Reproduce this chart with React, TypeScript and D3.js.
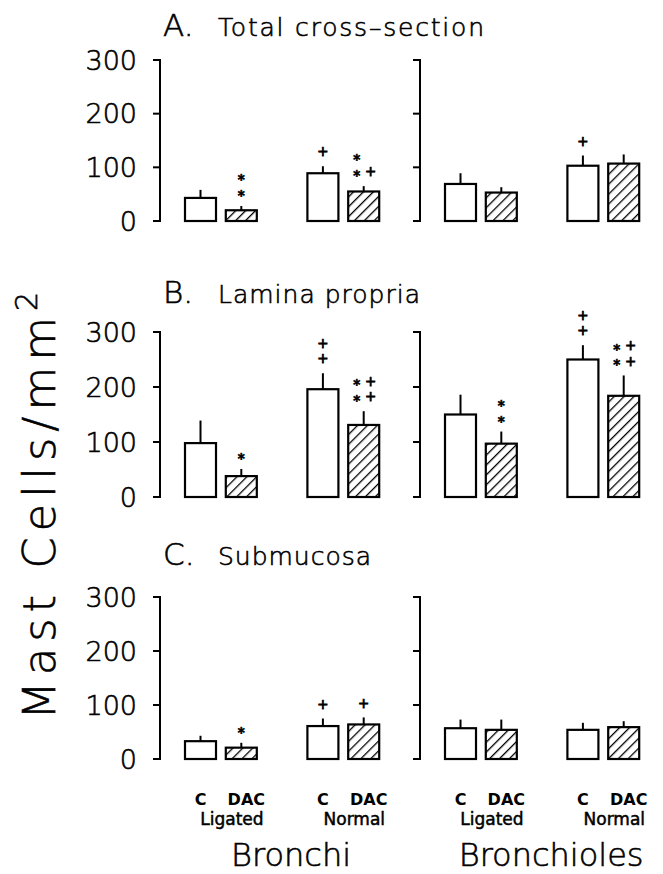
import React from "react";
import * as d3 from "d3";

const regions = ["Bronchi", "Bronchioles"];
const groups = ["Ligated", "Normal"];
const treatments = ["C", "DAC"];
const panelLetters = ["A.", "B.", "C."];
const panelNames = ["Total cross–section", "Lamina propria", "Submucosa"];
const yTicks = [0, 100, 200, 300];

// bar order: Bronchi (Ligated C, Ligated DAC, Normal C, Normal DAC), Bronchioles (same)
const totalMeans = [43, 20, 89, 55, 69, 53, 103, 107];
const totalSem = [15, 8, 13, 10, 20, 10, 19, 17];
const laminaMeans = [98, 38, 196, 131, 150, 97, 250, 184];
const laminaSem = [41, 13, 29, 25, 36, 22, 26, 37];
const submucosaMeans = [33, 21, 61, 64, 57, 54, 54, 59];
const submucosaSem = [10, 9, 14, 13, 16, 19, 13, 11];

// significance marks, rows from top to bottom
const totalMarks = [[], ["*", "*"], ["+"], ["* ", "*+"], [], [], ["+"], []];
const laminaMarks = [[], ["*"], ["+", "+"], ["*+", "*+"], [], ["*", "*"], ["+", "+"], ["*+", "*+"]];
const submucosaMarks = [[], ["*"], ["+"], ["+"], [], [], [], []];

const panelMeans = [totalMeans, laminaMeans, submucosaMeans];
const panelSem = [totalSem, laminaSem, submucosaSem];
const panelMarks = [totalMarks, laminaMarks, submucosaMarks];

const W = 663;
const H = 874;
const axisXs = [160, 420];
const panelRanges: [number, number][] = [
  [221, 60],
  [497, 332],
  [759, 597],
];
const titleBaselines = [36, 303, 565];
const nameLengths = [266, 202, 153];
const FONT = "'DejaVu Sans', sans-serif";
const MARK_FS = 13.4;
const ROW_GAP = 15.8;
const COL_GAP = 14;
const thin = { fontWeight: 300, stroke: "#000", strokeWidth: 0.6 };

export default function App() {
  const slots = ["Ligated-C", "Ligated-DAC", "gap", "Normal-C", "Normal-DAC"];
  const step = 40.8;
  const inner = 0.24;

  return (
    <svg
      width={W}
      height={H}
      viewBox={`0 0 ${W} ${H}`}
      style={{ position: "absolute", left: 0, top: 0, background: "#fff" }}
      fontFamily={FONT}
    >
      <defs>
        <pattern
          id="hatch"
          patternUnits="userSpaceOnUse"
          width={7}
          height={7}
          patternTransform="rotate(45)"
        >
          <line x1={0} y1={-1} x2={0} y2={8} stroke="#000" strokeWidth={2.6} />
        </pattern>
      </defs>
      <rect x={0} y={0} width={W} height={H} fill="#fff" />

      {/* y-axis label */}
      <text
        transform={`translate(55, 506) rotate(-90)`}
        textAnchor="middle"
        fontSize={45}
        fill="#000"
        textLength={428}
        lengthAdjust="spacing"
        {...thin}
      >
        Mast Cells/mm
        <tspan fontSize={30} dy={-18}>
          2
        </tspan>
      </text>

      {panelRanges.map((range, p) => {
        const y = d3.scaleLinear().domain([0, 300]).range(range);
        const means = panelMeans[p];
        const sems = panelSem[p];
        const marks = panelMarks[p];
        return (
          <g key={p}>
            <text x={163} y={titleBaselines[p]} fontSize={31} fill="#000" {...thin}>
              {panelLetters[p]}
            </text>
            <text
              x={218}
              y={titleBaselines[p]}
              fontSize={25}
              fill="#000"
              textLength={nameLengths[p]}
              lengthAdjust="spacing"
              {...thin}
            >
              {panelNames[p]}
            </text>
            {yTicks.map((t) => (
              <text
                key={t}
                x={137}
                y={y(t)}
                dy="0.36em"
                textAnchor="end"
                fontSize={27}
                fill="#000"
                {...thin}
              >
                {t}
              </text>
            ))}
            {regions.map((reg, r) => {
              const ax = axisXs[r];
              const band = d3
                .scaleBand()
                .domain(slots)
                .range([ax + 25, ax + 25 + step * (slots.length - inner)])
                .paddingInner(inner)
                .paddingOuter(0);
              return (
                <g key={reg}>
                  <line x1={ax} x2={ax} y1={y(300)} y2={y(0)} stroke="#000" strokeWidth={2} />
                  {yTicks.map((t) => (
                    <line
                      key={t}
                      x1={ax - 7}
                      x2={ax + 1}
                      y1={y(t)}
                      y2={y(t)}
                      stroke="#000"
                      strokeWidth={2}
                    />
                  ))}
                  {groups.map((g, gi) =>
                    treatments.map((tr, ti) => {
                      const idx = r * 4 + gi * 2 + ti;
                      const bx = band(`${g}-${tr}`)!;
                      const bw = band.bandwidth();
                      const cx = bx + bw / 2;
                      const m = means[idx];
                      const top = m + sems[idx];
                      const rows = marks[idx];
                      const baseY = y(top) - 14;
                      return (
                        <g key={`${g}-${tr}`}>
                          <line
                            x1={cx}
                            x2={cx}
                            y1={y(m)}
                            y2={y(top)}
                            stroke="#000"
                            strokeWidth={2}
                          />
                          <rect
                            x={bx}
                            y={y(m)}
                            width={bw}
                            height={y(0) - y(m)}
                            fill={tr === "DAC" ? "url(#hatch)" : "#fff"}
                            stroke="#000"
                            strokeWidth={2.2}
                          />
                          {rows.map((row, ri) => {
                            const rowY = baseY - (rows.length - 1 - ri) * ROW_GAP;
                            const n = row.length;
                            return row.split("").map((ch, ci) => {
                              if (ch === " ") return null;
                              const isStar = ch === "*";
                              return (
                                <text
                                  key={`${ri}-${ci}`}
                                  x={cx + (ci - (n - 1) / 2) * COL_GAP}
                                  y={rowY + (isStar ? 0.6 : 0.31) * MARK_FS}
                                  textAnchor="middle"
                                  fontSize={MARK_FS}
                                  fontWeight={isStar ? "bold" : "normal"}
                                  fill="#000"
                                  stroke="#000"
                                  strokeWidth={isStar ? 0.6 : 0.8}
                                >
                                  {ch}
                                </text>
                              );
                            });
                          })}
                          {p === 2 && (
                            <text
                              x={tr === "C" ? cx : cx + 5}
                              y={805}
                              textAnchor="middle"
                              fontSize={16}
                              fontWeight="bold"
                              fill="#000"
                            >
                              {tr}
                            </text>
                          )}
                        </g>
                      );
                    })
                  )}
                  {p === 2 &&
                    groups.map((g) => {
                      const cBar = band(`${g}-C`)!;
                      const dBar = band(`${g}-DAC`)!;
                      const mid = (cBar + dBar + band.bandwidth()) / 2;
                      return (
                        <text
                          key={g}
                          x={mid + 11}
                          y={825}
                          textAnchor="middle"
                          fontSize={17}
                          fill="#000"
                          stroke="#000"
                          strokeWidth={0.5}
                        >
                          {g}
                        </text>
                      );
                    })}
                  {p === 2 && (
                    <text
                      x={(band("Ligated-C")! + band("Normal-DAC")! + band.bandwidth()) / 2 + 9}
                      y={866}
                      textAnchor="middle"
                      fontSize={32}
                      fill="#000"
                      {...thin}
                    >
                      {reg}
                    </text>
                  )}
                </g>
              );
            })}
          </g>
        );
      })}
    </svg>
  );
}
